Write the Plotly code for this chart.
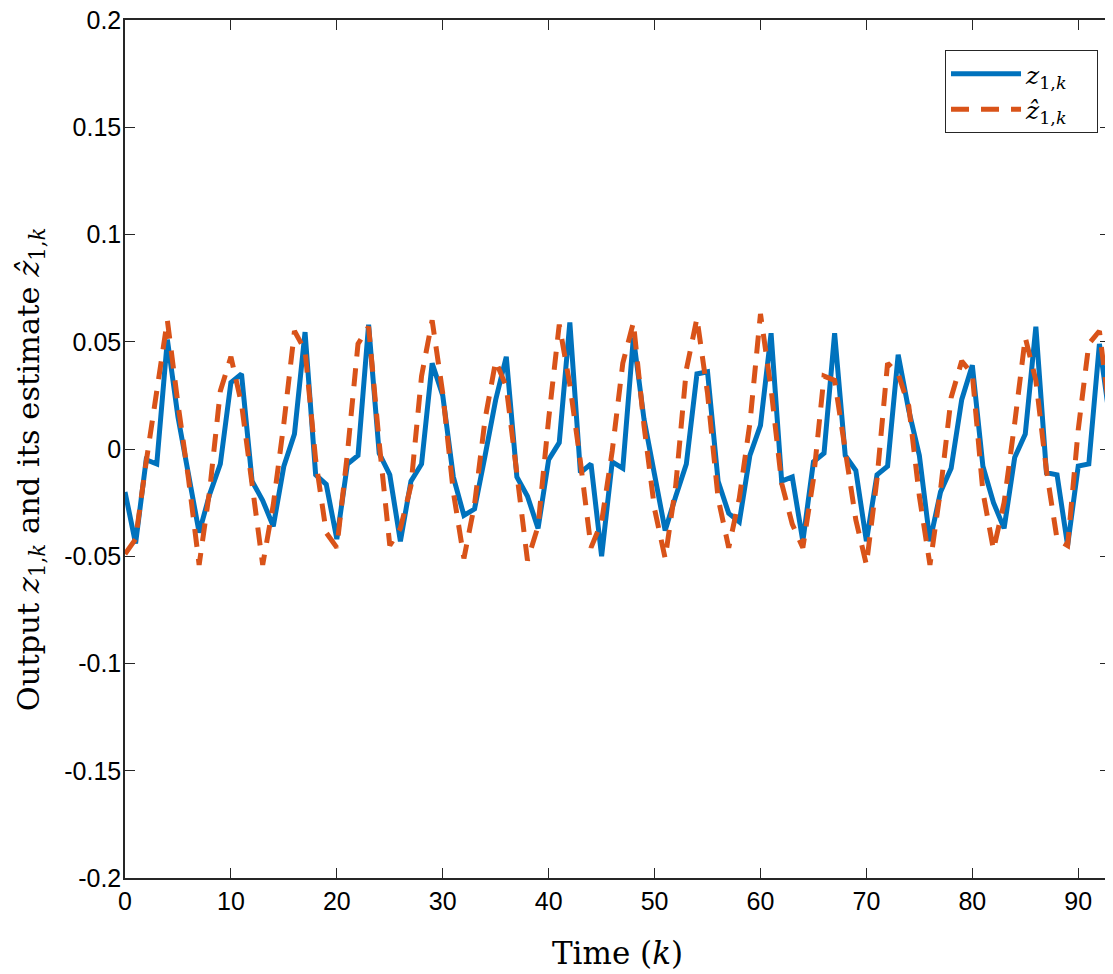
import plotly.graph_objects as go

# time steps k = 0..93
k = list(range(94))

# measured output z_{1,k}
z_true = [
    -0.020, -0.044, -0.005, -0.007, 0.051, 0.015, -0.012, -0.039, -0.021, -0.007,
    0.031, 0.035, -0.015, -0.024, -0.036, -0.008, 0.007, 0.0545, -0.012, -0.0165,
    -0.042, -0.007, -0.003, 0.058, -0.002, -0.012, -0.043, -0.015, -0.007, 0.040,
    0.025, -0.013, -0.031, -0.028, -0.003, 0.023, 0.043, -0.013, -0.022, -0.037,
    -0.005, 0.003, 0.059, -0.011, -0.007, -0.050, -0.006, -0.009, 0.052, 0.014,
    -0.012, -0.038, -0.022, -0.007, 0.035, 0.036, -0.015, -0.030, -0.034, -0.003,
    0.011, 0.054, -0.015, -0.013, -0.043, -0.006, -0.002, 0.054, -0.003, -0.010,
    -0.043, -0.012, -0.008, 0.044, 0.018, -0.003, -0.043, -0.020, -0.009, 0.023,
    0.039, -0.008, -0.025, -0.037, -0.004, 0.007, 0.057, -0.011, -0.012, -0.045,
    -0.008, -0.007, 0.049, 0.013,
]

# estimate \hat{z}_{1,k}
z_est = [
    -0.049, -0.042, -0.006, 0.026, 0.060, 0.021, -0.014, -0.054, -0.019, 0.027,
    0.043, 0.021, -0.016, -0.054, -0.026, 0.012, 0.055, 0.046, -0.005, -0.039,
    -0.046, -0.002, 0.049, 0.057, 0.003, -0.045, -0.037, -0.017, 0.034, 0.060,
    0.026, -0.020, -0.051, -0.026, 0.014, 0.041, 0.029, -0.014, -0.052, -0.036,
    0.014, 0.058, 0.030, -0.006, -0.046, -0.034, -0.001, 0.040, 0.059, 0.011,
    -0.028, -0.051, -0.017, 0.037, 0.061, 0.026, -0.023, -0.046, -0.023, 0.012,
    0.063, 0.028, -0.016, -0.035, -0.046, -0.014, 0.034, 0.032, 0.000, -0.033,
    -0.054, -0.014, 0.040, 0.035, 0.020, -0.022, -0.054, -0.019, 0.024, 0.041,
    0.035, -0.020, -0.047, -0.025, 0.012, 0.052, 0.032, -0.010, -0.042, -0.045,
    0.009, 0.049, 0.055, 0.015,
]

x_ticks = [0, 10, 20, 30, 40, 50, 60, 70, 80, 90]
y_ticks = [-0.2, -0.15, -0.1, -0.05, 0, 0.05, 0.1, 0.15, 0.2]
y_tick_labels = ["-0.2", "-0.15", "-0.1", "-0.05", "0", "0.05", "0.1", "0.15", "0.2"]

serif = "DejaVu Serif, Liberation Serif, serif"
sans = "Liberation Sans, Arial, sans-serif"
pad = "\u00a0\u00a0\u00a0"

fig = go.Figure()

fig.add_trace(go.Scatter(
    x=k, y=z_true, mode="lines",
    name="<i>z</i><sub>1,<i>k</i></sub>" + pad,
    line=dict(color="#0072BD", width=5),
))
fig.add_trace(go.Scatter(
    x=k, y=z_est, mode="lines",
    name="<i>ẑ</i><sub>1,<i>k</i></sub>" + pad,
    line=dict(color="#D95319", width=5, dash="18px,12px"),
))

axis_common = dict(
    showline=True, linecolor="#262626", linewidth=1.5, mirror="ticks",
    ticks="inside", ticklen=10, tickwidth=1, tickcolor="#262626",
    showgrid=False, zeroline=False, automargin=False,
    ticklabeloverflow="allow",
    tickfont=dict(family=sans, size=25, color="#000000"),
)

fig.update_xaxes(
    range=[0, 93], tickvals=x_ticks,
    title=dict(text="Time (<i>k</i>)", font=dict(family=serif, size=31, color="#000000"),
               standoff=29),
    **axis_common,
)
fig.update_yaxes(
    range=[-0.2, 0.2], tickvals=y_ticks, ticktext=y_tick_labels,
    ticklabelstandoff=-3,
    **axis_common,
)

# y title as an annotation so it can sit closer to the left edge
fig.add_annotation(
    text="Output <i>z</i><sub>1,<i>k</i></sub> and its estimate "
         "<i>ẑ</i><sub>1,<i>k</i></sub>",
    xref="paper", yref="paper", x=-0.096, y=0.477,
    xanchor="center", yanchor="middle", textangle=-90, showarrow=False,
    font=dict(family=serif, size=30.5, color="#000000"),
)

# page body adds a small offset, so margins are shifted to land the axes
# where the original has them
fig.update_layout(
    width=1113, height=974,
    margin=dict(l=117, r=11, t=12, b=104),
    plot_bgcolor="white", paper_bgcolor="white",
    legend=dict(
        x=0.8325, y=0.965, xanchor="left", yanchor="top",
        bgcolor="white", bordercolor="#262626", borderwidth=1,
        font=dict(family=serif, size=25, color="#000000"),
        itemwidth=70, tracegroupgap=0,
    ),
    showlegend=True,
)

fig.write_html("out.html")
